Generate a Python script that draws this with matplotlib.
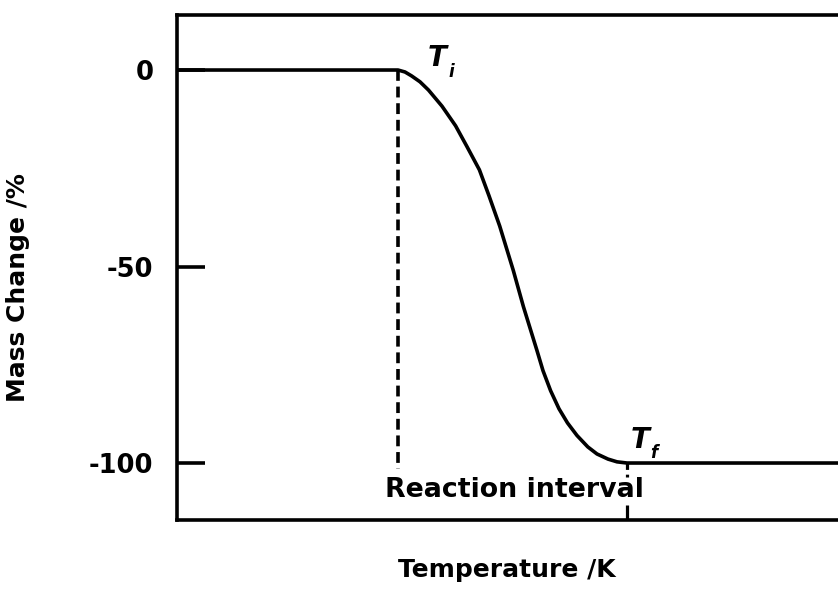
import matplotlib
matplotlib.use("Agg")
import matplotlib.pyplot as plt

# Data (arbitrary temperature units, mass change in %)
temperature = [0, 221, 228, 234.6, 243, 251.5, 265, 278.6, 290, 302.4, 312,
               322.7, 336.3, 346.4, 360.0, 366, 373.6, 382, 390.5, 400, 410.8,
               420, 431.0, 440, 450.0, 700]
mass_change = [0, 0, -0.5, -1.5, -3.0, -5.1, -9.2, -14.2, -19.5, -25.4, -32.0,
               -39.7, -51.0, -60.2, -71.4, -76.5, -81.6, -86.2, -89.8, -93.0,
               -95.9, -97.7, -99.0, -99.7, -100.0, -100.0]
T_initial = 221
T_final = 450
y_ticks = [0, -50, -100]
y_ticklabels = ["0", "-50", "-100"]

plt.rcParams['font.family'] = ['DejaVu Sans']
plt.rcParams['font.weight'] = 'bold'

fig = plt.figure(figsize=(8.38, 6.04), dpi=100)

ax = fig.add_axes([177/838, 1-520/604, 700/838, 505/604])
ax.set_xlim(0, 700)
ax.set_ylim(-114.5, 14)

ax.plot(temperature, mass_change, color='black', lw=2.6,
        solid_joinstyle='round')
ax.plot([T_initial, T_initial], [0, -101.5], color='black', lw=2.6,
        linestyle=(0, (3, 1.6)))
ax.plot([T_final, T_final], [-100, -103.5], color='black', lw=2.3,
        linestyle=(0, (2, 1.5)))

for s in ax.spines.values():
    s.set_linewidth(2.6)

ax.set_yticks(y_ticks)
ax.set_yticklabels(y_ticklabels, fontsize=18.5, fontweight='bold')
ax.tick_params(axis='y', direction='in', length=20, width=2.6, pad=17)
ax.set_xticks([T_final])
ax.set_xticklabels([])
ax.tick_params(axis='x', direction='in', length=11, width=2.3)

ax.set_ylabel("Mass Change /%", fontsize=18, fontweight='bold')
ax.yaxis.set_label_coords(-(177-30)/700, (520-288)/505)
ax.set_xlabel("Temperature /K", fontsize=18, fontweight='bold')
ax.xaxis.set_label_coords((507-177)/700, -(558-520)/505)

ax.text(337, -108.6, "Reaction interval", fontsize=19.3, fontweight='bold',
        ha='center', va='baseline')

# T_i and T_f labels
ax.text(251, 1.0, "T", fontsize=20, fontweight='bold', style='italic',
        ha='left', va='baseline')
ax.text(271, -1.8, "i", fontsize=12, fontweight='bold', style='italic',
        ha='left', va='baseline')
ax.text(454, -96.2, "T", fontsize=20, fontweight='bold', style='italic',
        ha='left', va='baseline')
ax.text(473, -98.8, "f", fontsize=12, fontweight='bold', style='italic',
        ha='left', va='baseline')

fig.savefig("out.png", dpi=100)
